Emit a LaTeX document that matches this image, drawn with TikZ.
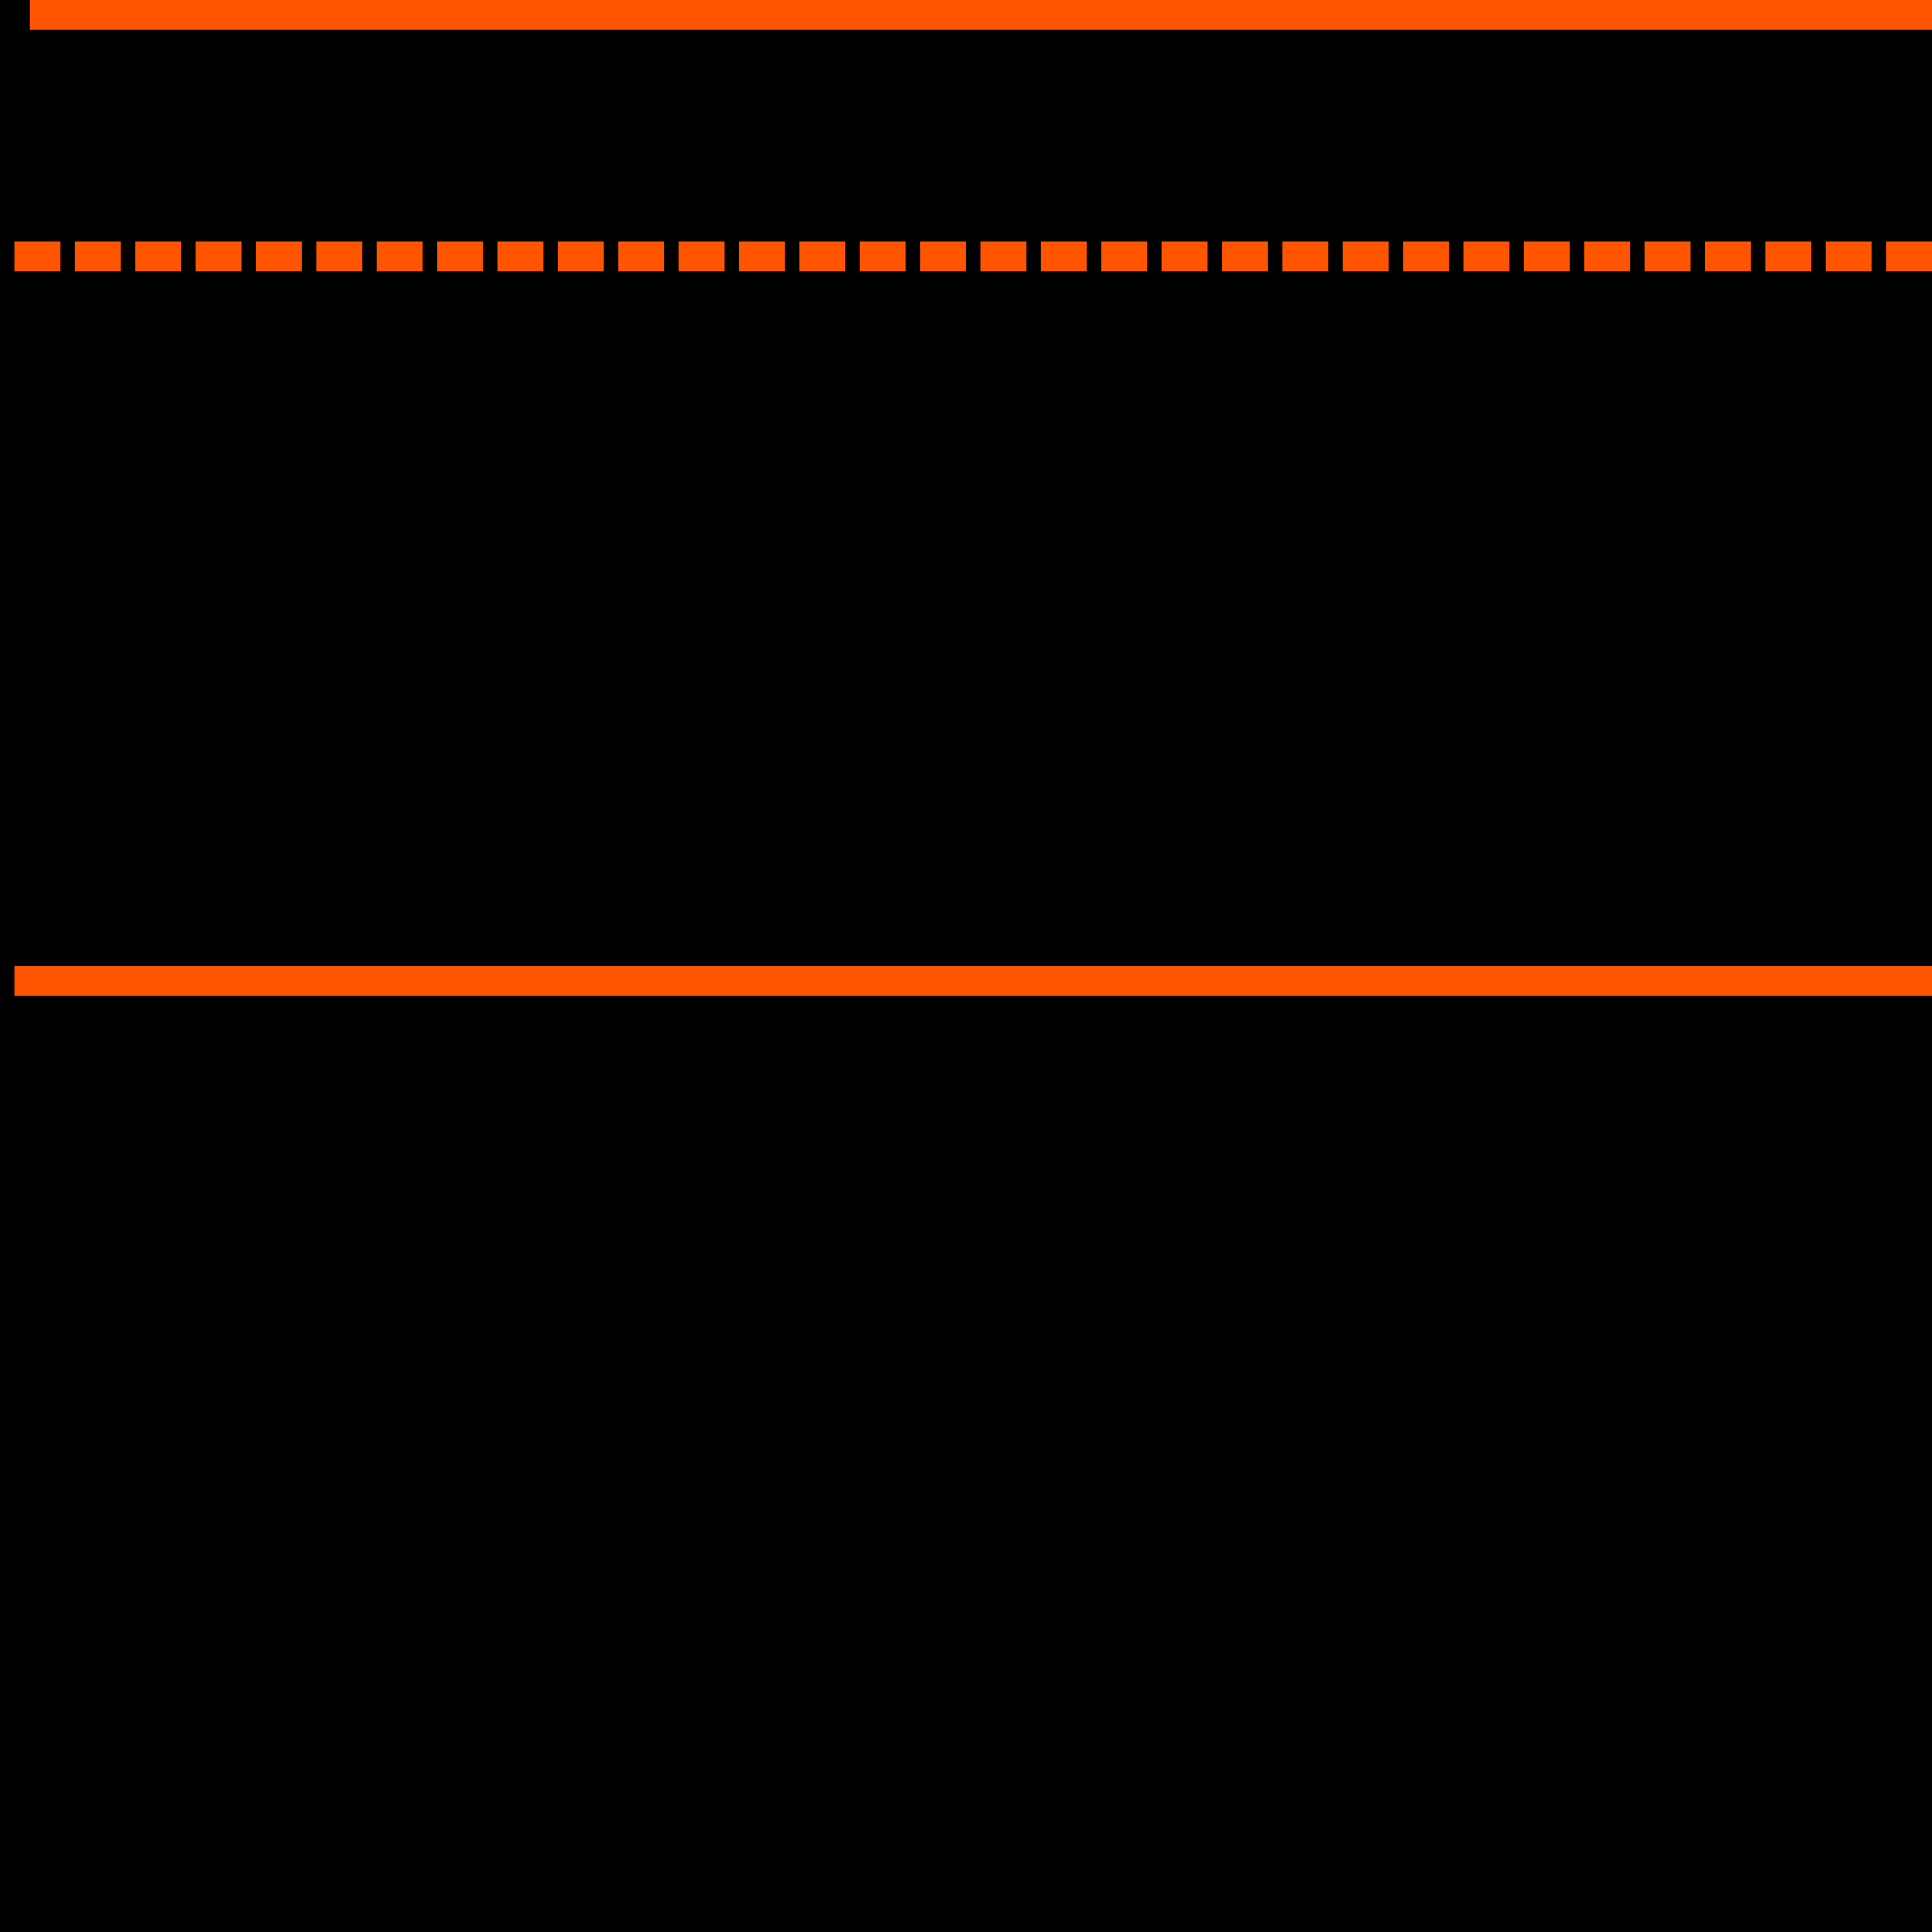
\documentclass[tikz,border=0pt]{standalone}
\definecolor{bar}{HTML}{FF5500}
\tikzset{
  band/.style   = {line width=24mm, draw=bar},
  dashband/.style = {band, dash pattern=on 37mm off 12mm}
}
\begin{document}
\begin{tikzpicture}[x=1mm,y=-1mm]
% background and frame
\fill[black] (0,0) rectangle (1568,1568);
\useasboundingbox (0,0) rectangle (1568,1568);

% top band
\fill[bar] (24,0) rectangle (1568,24);
% dashed band
\draw[dashband] (12,208) -- (1568,208);
% lower band
\draw[band] (12,796) -- (1568,796);
\end{tikzpicture}
\end{document}
